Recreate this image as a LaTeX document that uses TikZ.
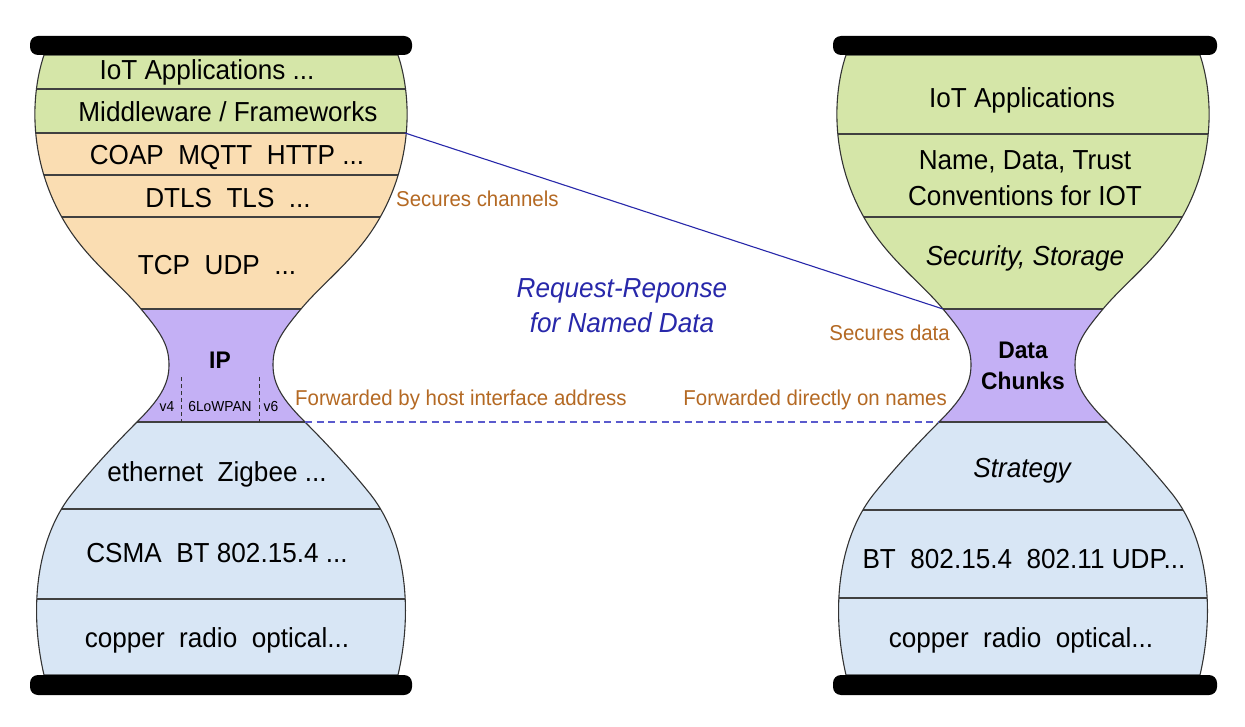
\documentclass[tikz,border=0pt]{standalone}
\usepackage{fontspec}
\setmainfont[FakeStretch=0.95]{Liberation Sans}
\definecolor{cgreen}{RGB}{213,230,168}
\definecolor{corange}{RGB}{250,221,178}
\definecolor{cpurple}{RGB}{196,176,245}
\definecolor{cblue}{RGB}{216,230,245}
\definecolor{cbrown}{RGB}{180,105,35}
\definecolor{cnavy}{RGB}{40,40,170}
\definecolor{cdash}{RGB}{90,90,205}
\tikzset{
  hg/.style={insert path={(177,55) .. controls (192,100) and (192,170) .. (150,232) .. controls (128,264) and (100,285) .. (80,309) .. controls (60,333) and (52,345) .. (52,365) .. controls (52,385) and (62,400) .. (84,422) .. controls (106,444) and (130,470) .. (150,495) .. controls (185,540) and (192,610) .. (177,675) -- (-177,675) .. controls (-192,610) and (-185,540) .. (-150,495) .. controls (-130,470) and (-106,444) .. (-84,422) .. controls (-62,400) and (-52,385) .. (-52,365) .. controls (-52,345) and (-60,333) .. (-80,309) .. controls (-100,285) and (-128,264) .. (-150,232) .. controls (-192,170) and (-192,100) .. (-177,55) -- cycle}},
  outline/.style={draw=black!80, line width=1.1pt},
  layerline/.style={draw=black!75, line width=1.1pt},
  bar/.style={fill=black, rounded corners=8pt},
  mainlbl/.style={font=\fontsize{27.5}{31}\selectfont, inner sep=0pt, anchor=base, text=black},
  boldlbl/.style={font=\fontsize{24}{28}\selectfont\bfseries, inner sep=0pt, anchor=base, text=black},
  smalllbl/.style={font=\fontsize{14.5}{16}\selectfont, inner sep=0pt, anchor=base, text=black},
  notelbl/.style={font=\fontsize{21.5}{24}\selectfont, inner sep=0pt, anchor=base, text=cbrown},
  reqlbl/.style={font=\fontsize{27.5}{31}\selectfont\itshape, inner sep=0pt, anchor=base, text=cnavy},
  reqline/.style={draw=cnavy, line width=1.1pt},
  fwdline/.style={draw=cdash, line width=1.2pt, dash pattern=on 7pt off 4.5pt},
  vdash/.style={draw=black!80, line width=1pt, dash pattern=on 4pt off 3pt},
}
\begin{document}
\begin{tikzpicture}[x=1pt,y=-1pt]
\useasboundingbox (0,0) rectangle (1245,727);
\fill[white] (0,0) rectangle (1245,727);

% ---------- left hourglass ----------
\begin{scope}[shift={(221,0)}]
  \begin{scope}
    \clip[hg];
    \fill[cgreen] (-200,40) rectangle (200,133);
    \fill[corange] (-200,133) rectangle (200,309);
    \fill[cpurple] (-200,309) rectangle (200,422);
    \fill[cblue] (-200,422) rectangle (200,690);
    \foreach \yy in {89,133,175,217,309,422,509,599}
      \draw[layerline] (-200,\yy) -- (200,\yy);
  \end{scope}
  \draw[outline, hg];
  \fill[bar] (-191,36) rectangle (191,55);
  \fill[bar] (-191,675) rectangle (191,695);
  \draw[vdash] (-40,377) -- (-40,422);
  \draw[vdash] (38,377) -- (38,422);
  \coordinate (Lmw) at (184,133);
  \coordinate (Lip) at (84,422);
  \node[mainlbl] (l1) at (-14,80) {IoT Applications ...};
  \node[mainlbl] (l2) at (7,122) {Middleware / Frameworks};
  \node[mainlbl] (l3) at (6,165) {COAP\ \ MQTT\ \ HTTP ...};
  \node[mainlbl] (l4) at (7,208) {DTLS\ \ TLS\ \ ...};
  \node[mainlbl] (l5) at (-4,275) {TCP\ \ UDP\ \ ...};
  \node[boldlbl] (lip) at (-1,368) {IP};
  \node[smalllbl] (lv4) at (-54,411) {v4};
  \node[smalllbl] (llow) at (-1,411) {6LoWPAN};
  \node[smalllbl] (lv6) at (50,411) {v6};
  \node[mainlbl] (l6) at (-4,481) {ethernet\ \ Zigbee ...};
  \node[mainlbl] (l7) at (-4,562) {CSMA\ \ BT 802.15.4 ...};
  \node[mainlbl] (l8) at (-4,647) {copper\ \ radio\ \ optical...};
\end{scope}

% ---------- right hourglass ----------
\begin{scope}[shift={(1023,0)}]
  \begin{scope}
    \clip[hg];
    \fill[cgreen] (-200,40) rectangle (200,309);
    \fill[cpurple] (-200,309) rectangle (200,422);
    \fill[cblue] (-200,422) rectangle (200,690);
    \foreach \yy in {134,217,309,422,510,598}
      \draw[layerline] (-200,\yy) -- (200,\yy);
  \end{scope}
  \draw[outline, hg];
  \fill[bar] (-190,36) rectangle (194,55);
  \fill[bar] (-190,675) rectangle (194,695);
  \coordinate (Rsd) at (-80,309);
  \coordinate (Rdc) at (-84,422);
  \node[mainlbl] (r1) at (-1,108) {IoT Applications};
  \node[mainlbl] (r2) at (2,170) {Name, Data, Trust};
  \node[mainlbl] (r3) at (2,206) {Conventions for IOT};
  \node[mainlbl, font=\fontsize{27.5}{31}\selectfont\itshape] (r4) at (2,266) {Security, Storage};
  \node[boldlbl] (r5) at (0,358) {Data};
  \node[boldlbl] (r6) at (0,389) {Chunks};
  \node[mainlbl, font=\fontsize{27.5}{31}\selectfont\itshape] (r7) at (-1,477) {Strategy};
  \node[mainlbl] (r8) at (1,568) {BT\ \ 802.15.4\ \ 802.11 UDP...};
  \node[mainlbl] (r9) at (-2,647) {copper\ \ radio\ \ optical...};
\end{scope}

% ---------- connectors and notes ----------
\draw[reqline] (Lmw) -- (Rsd);
\draw[fwdline] (Lip) -- (Rdc);
\node[notelbl, anchor=base west] (n1) at (396,207) {Secures channels};
\node[notelbl, anchor=base east] (n2) at (950,341) {Secures data};
\node[notelbl, anchor=base west] (n3) at (295,405) {Forwarded by host interface address};
\node[notelbl, anchor=base east] (n4) at (947,405) {Forwarded directly on names};
\node[reqlbl] (q1) at (622,298) {Request-Reponse};
\node[reqlbl] (q2) at (622,333) {for Named Data};
\end{tikzpicture}
\end{document}
